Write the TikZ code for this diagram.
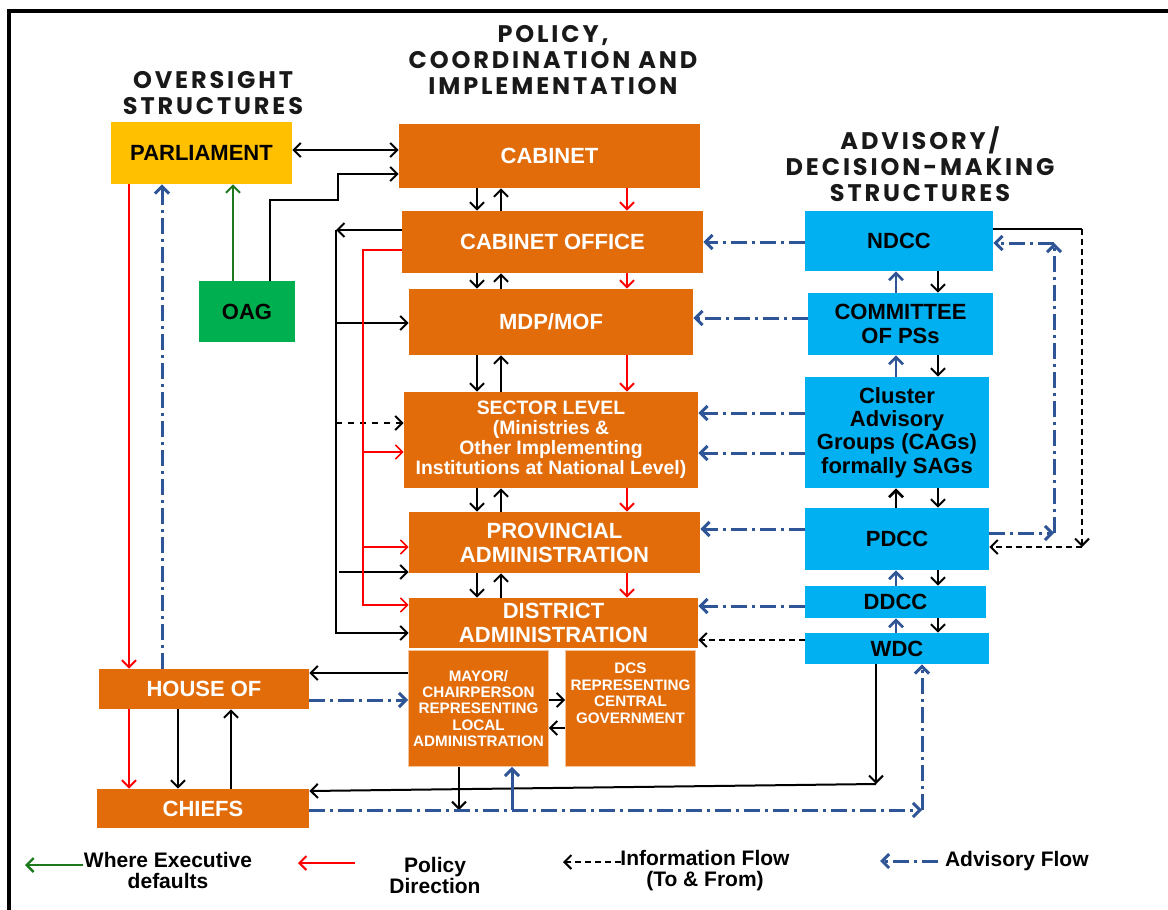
\documentclass[tikz,border=0pt]{standalone}
\usepackage{fontspec}
\setmainfont{Liberation Sans}
\newfontfamily\headfont[LetterSpace=12]{Poppins}
\usetikzlibrary{arrows.meta}
\definecolor{boxorange}{RGB}{226,108,10}
\definecolor{boxyellow}{RGB}{255,192,0}
\definecolor{boxgreen}{RGB}{0,176,80}
\definecolor{boxblue}{RGB}{0,176,240}
\definecolor{advblue}{RGB}{47,85,151}
\definecolor{defgreen}{RGB}{30,120,30}
\newcommand{\boxfont}[2]{\bfseries\fontsize{#1}{#2}\selectfont}

\begin{document}
\begin{tikzpicture}[x=0.5pt,y=-0.5pt,>={Straight Barb[length=3.5pt,width=7pt]},
	wd/.style={minimum width=#1*0.5pt},
	ht/.style={minimum height=#1*0.5pt},
	obox/.style={fill=boxorange,inner sep=0pt,text=white,align=center,font=\boxfont{11}{12}},
	bbox/.style={fill=boxblue,inner sep=0pt,align=center,font=\boxfont{11}{11.7}},
	head/.style={align=center,text=black!90,font=\headfont\bfseries\fontsize{12}{13}\selectfont},
	legtext/.style={align=center,font=\boxfont{10.5}{10.5}},
	info/.style={->,black,line width=1pt},
	policy/.style={->,red,line width=1pt},
	advise/.style={->,advblue,line width=1.5pt,dash pattern=on 8pt off 2.5pt on 1.5pt off 2.5pt}]
\useasboundingbox (0,0) rectangle (1168,910);
\draw[line width=2pt] (9,910) -- (9,11) -- (1168,11);

\node[head] (hover) at (213,93) {OVERSIGHT\\STRUCTURES};
\node[head] (hpol) at (553,60) {POLICY,\\COORDINATION AND\\IMPLEMENTATION};
\node[head] (hadv) at (920,164) {ADVISORY/\\DECISION-MAKING\\STRUCTURES};

% oversight
\node[obox,fill=boxyellow,text=black,wd=181,ht=62] (par) at (201.5,153) {PARLIAMENT};
\node[obox,fill=boxgreen,text=black,wd=96,ht=61] (oag) at (247,311.5) {OAG};
\node[obox,wd=210,ht=40] (house) at (204,689) {HOUSE OF};
\node[obox,wd=212,ht=39] (chiefs) at (203,808.5) {CHIEFS};

% policy, coordination and implementation
\node[obox,wd=301,ht=64] (cab) at (549.5,156) {CABINET};
\node[obox,wd=301,ht=62] (cofc) at (552.5,242) {CABINET OFFICE};
\node[obox,wd=284,ht=66] (mdp) at (551,322) {MDP/MOF};
\node[obox,wd=294,ht=96,font=\boxfont{9.7}{10}] (sect) at (551,440) {SECTOR LEVEL\\(Ministries \&\\Other Implementing\\Institutions at National Level)};
\node[obox,wd=291,ht=61] (prov) at (554.5,542.5) {PROVINCIAL\\ADMINISTRATION};
\node[obox,wd=289,ht=50] (dist) at (553.5,623) {DISTRICT\\ADMINISTRATION};
\node[obox,wd=140,ht=116,draw=boxorange!40!white,font=\boxfont{7.6}{8.2}] (mayor) at (478.5,708.5) {MAYOR/\\CHAIRPERSON\\REPRESENTING\\LOCAL\\ADMINISTRATION};
\node[obox,wd=130,ht=116,draw=boxorange!40!white,
	label={[anchor=north,yshift=-3pt,text=white,align=center,font=\boxfont{7.6}{8.3}]north:{DCS\\REPRESENTING\\CENTRAL\\GOVERNMENT}}] (dcs) at (630.5,708.5) {};

% advisory
\node[bbox,wd=188,ht=60] (ndcc) at (899,241) {NDCC};
\node[bbox,wd=185,ht=62] (cps) at (900.5,324) {COMMITTEE\\OF PSs};
\node[bbox,wd=184,ht=111] (cag) at (897,432.5) {Cluster\\Advisory\\Groups (CAGs)\\formally SAGs};
\node[bbox,wd=184,ht=62] (pdcc) at (897,539) {PDCC};
\node[bbox,wd=181,ht=32] (ddcc) at (895.5,602) {DDCC};
\node[bbox,wd=184,ht=31] (wdc) at (897,648.5) {WDC};

\draw[info,<->] (par.east |- 0,150) -- (cab.west |- 0,150);
\draw[info] (270,0 |- oag.north) -- (270,200) -- (338,200) -- (338,174) -- (cab.west |- 0,174);
\draw[->,defgreen,line width=1pt] (233,0 |- oag.north) -- (233,0 |- par.south);
\draw[policy] (129,0 |- par.south) -- (129,0 |- house.north);
\draw[advise] (162,0 |- house.north) -- (162,0 |- par.south);
\draw[policy] (129,0 |- house.south) -- (129,0 |- chiefs.north);
\draw[info] (178,0 |- house.south) -- (178,0 |- chiefs.north);
\draw[info] (231,0 |- chiefs.north) -- (231,0 |- house.south);

\foreach \a/\b in {cab/cofc,cofc/mdp,mdp/sect,sect/prov,prov/dist}{
	\draw[info] (477,0 |- \a.south) -- (477,0 |- \b.north);
	\draw[info] (501,0 |- \b.north) -- (501,0 |- \a.south);
	\draw[policy] (627,0 |- \a.south) -- (627,0 |- \b.north);
}

\coordinate (bus) at (336,230);
\draw[info] (cofc.west |- bus) -- (bus);
\draw[info] (bus) -- (bus |- 0,633) -- (dist.west |- 0,633);
\draw[info] (bus |- 0,323) -- (mdp.west |- 0,323);
\draw[info,dashed] (bus |- 0,423) -- (sect.west |- 0,423);
\draw[info] (339,572) -- (prov.west |- 0,572);

\coordinate (redbus) at (363,250);
\draw[policy,line width=0.8pt] (cofc.west |- redbus) -- (redbus) -- (redbus |- 0,605) -- (dist.west |- 0,605);
\draw[policy,line width=0.8pt] (redbus |- 0,452) -- (sect.west |- 0,452);
\draw[policy,line width=0.8pt] (redbus |- 0,547) -- (prov.west |- 0,547);

\draw[advise] (ndcc.west |- 0,242) -- (cofc.east |- 0,242);
\draw[advise] (cps.west |- 0,318) -- (mdp.east |- 0,318);
\draw[advise] (cag.west |- 0,413) -- (sect.east |- 0,413);
\draw[advise] (cag.west |- 0,453) -- (sect.east |- 0,453);
\draw[advise] (pdcc.west |- 0,529) -- (prov.east |- 0,529);
\draw[advise] (ddcc.west |- 0,606) -- (dist.east |- 0,606);
\draw[info,densely dashed] (wdc.west |- 0,640) -- (dist.east |- 0,640);

\foreach \a/\b/\c in {ndcc/cps/advblue,cps/cag/advblue,cag/pdcc/black,pdcc/ddcc/advblue,ddcc/wdc/advblue}{
	\draw[->,\c,line width=1.3pt] (896,0 |- \b.north) -- (896,0 |- \a.south);
	\draw[info] (938,0 |- \a.south) -- (938,0 |- \b.north);
}

\draw[line width=1pt] (ndcc.east |- 0,229) -- (1082,229);
\draw[info,densely dashed] (1082,229) -- (1082,547);
\draw[info,densely dashed] (1082,547) -- (pdcc.east |- 0,547);
\draw[advise] (pdcc.east |- 0,533) -- (1054,533);
\draw[advise] (1054,533) -- (1054,243);
\draw[advise] (1054,243) -- (ndcc.east |- 0,243);

\draw[info] (mayor.west |- 0,673) -- (house.east |- 0,673);
\draw[advise] (house.east |- 0,700) -- (mayor.west |- 0,700);
\draw[info] (mayor.east |- 0,700) -- (dcs.west |- 0,700);
\draw[info] (dcs.west |- 0,728) -- (mayor.east |- 0,728);
\draw[info] (876,0 |- wdc.south) -- (876,784);
\draw[info] (876,784) -- (chiefs.east |- 0,791);
\draw[info] (459,0 |- mayor.south) -- (459,810);
\draw[advise] (chiefs.east |- 0,810) -- (922,810);
\draw[advise] (922,810) -- (922,0 |- wdc.south);
\draw[->,advblue,line width=1.5pt] (512,810) -- (512,0 |- mayor.south);

% legend
\node[legtext] (lgexec) at (168,870) {Where Executive\\defaults};
\node[legtext] (lgpol) at (435,875) {Policy\\Direction};
\node[legtext] (lginfo) at (705,871) {Information Flow\\(To \& From)};
\node[legtext,anchor=west] (lgadv) at (938,861) {Advisory Flow};
\draw[->,defgreen,line width=1.2pt] (83,865) -- (25,865);
\draw[policy] (355,863) -- (298,863);
\draw[info,densely dashed] (621,862) -- (563,862);
\draw[advise] (lgadv.west) -- (880,861);
\end{tikzpicture}
\end{document}
